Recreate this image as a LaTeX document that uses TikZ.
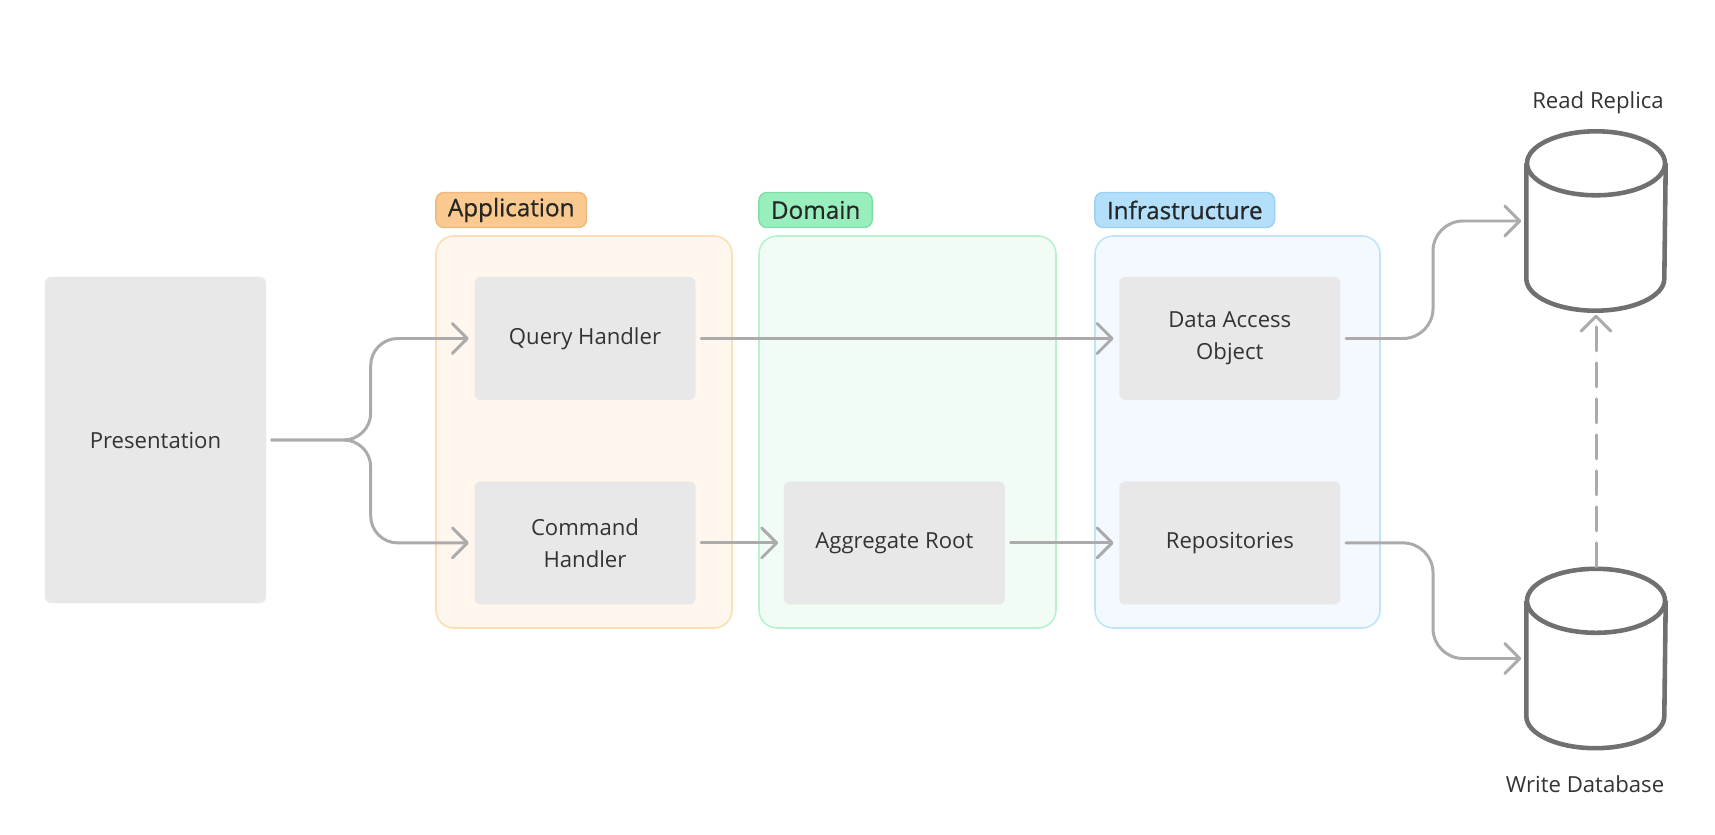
\documentclass[tikz,border=0pt]{standalone}
\usepackage{fontspec}
\setmainfont{Open Sans}
\newfontfamily\tagfont{Open Sans}[FakeBold=0.6]
\usepackage{xcolor}
\usetikzlibrary{arrows.meta, positioning, calc}
\definecolor{boxgray}{HTML}{E8E8E8}
\definecolor{linegray}{HTML}{ABABAB}
\definecolor{dbgray}{HTML}{707070}
\definecolor{txtgray}{HTML}{333333}
\definecolor{appfill}{HTML}{FFF7EE}
\definecolor{appline}{HTML}{FDDDB5}
\definecolor{apptagfill}{HTML}{F9C98F}
\definecolor{apptagline}{HTML}{F1B679}
\definecolor{domfill}{HTML}{F0FCF4}
\definecolor{domline}{HTML}{B8F1CE}
\definecolor{domtagfill}{HTML}{99EEBD}
\definecolor{domtagline}{HTML}{7FDEA6}
\definecolor{infill}{HTML}{F3F9FE}
\definecolor{infline}{HTML}{BFE4FA}
\definecolor{intagfill}{HTML}{B4DFFA}
\definecolor{intagline}{HTML}{9BD0F2}
\tikzstyle{arrow} = [line width=0.85pt, draw=linegray, line cap=round, -{Straight Barb[length=1.5mm,width=3mm,round]}, shorten <=0.05cm, shorten >=0.05cm]

\begin{document}
\begin{tikzpicture}[font=\fontsize{6.3}{9}\selectfont]
\tikzstyle{block} = [rectangle, rounded corners=0.06cm, fill=boxgray, text=txtgray, minimum width=2.21cm, minimum height=1.23cm, align=center]
\tikzstyle{layer} = [rectangle, rounded corners=0.18cm, line width=0.45pt, minimum height=3.92cm]
\tikzstyle{tag} = [rectangle, rounded corners=0.08cm, line width=0.4pt, minimum height=0.35cm, inner xsep=0.12cm, inner ysep=0pt, font=\tagfont\fontsize{6.9}{8}\selectfont, text=black!85]
\tikzstyle{db} = [rectangle, minimum width=1.38cm, minimum height=1.78cm, inner sep=0pt]
\tikzstyle{dblabel} = [text=txtgray]

\useasboundingbox (0,0) rectangle (17.15,8.34);

% layers
\node (app) [layer, fill=appfill, draw=appline, minimum width=2.96cm] at (5.84,4.02) {};
\node (domain) [layer, fill=domfill, draw=domline, minimum width=2.97cm] at (9.075,4.02) {};
\node (infra) [layer, fill=infill, draw=infline, minimum width=2.85cm] at (12.375,4.02) {};
\node (apptag) [tag, fill=apptagfill, draw=apptagline, above right=0.07cm and 0cm of app.north west] {Application};
\node (domtag) [tag, fill=domtagfill, draw=domtagline, above right=0.07cm and 0cm of domain.north west] {Domain};
\node (intag) [tag, fill=intagfill, draw=intagline, above right=0.07cm and 0cm of infra.north west] {Infrastructure};

% blocks
\node (presentation) [block, minimum height=3.26cm] at (1.555,3.94) {Presentation};
\node (query) [block] at (5.85,4.955) {Query Handler};
\node (command) [block, below=0.8cm of query] {Command\\Handler};
\node (aggregate) [block, right=0.87cm of command] {Aggregate Root};
\node (repos) [block, right=1.13cm of aggregate] {Repositories};
\node (dao) [block, above=0.8cm of repos] {Data Access\\Object};

% databases
\node (readdb) [db] at (15.96,6.13) {};
\node (writedb) [db] at (15.96,1.755) {};
\node (readlabel) [dblabel] at (15.98,7.31) {Read Replica};
\node (writelabel) [dblabel] at (15.85,0.50) {Write Database};
\foreach \n in {readdb,writedb} {
  \draw [dbgray, line width=1.3pt, fill=white] ($(\n.north west)+(0,-0.32)$) -- ($(\n.south west)+(0,0.32)$) arc[start angle=180, end angle=360, x radius=0.69cm, y radius=0.32cm] -- ($(\n.north east)+(0,-0.32)$);
  \draw [dbgray, line width=1.3pt, fill=white] ($(\n.north)+(0,-0.32)$) ellipse [x radius=0.69cm, y radius=0.32cm];
}

\draw [arrow, rounded corners=0.27cm] (presentation.east) -- ++(1.04,0) |- (query.west);
\draw [arrow, rounded corners=0.27cm] (presentation.east) -- ++(1.04,0) |- (command.west);
\draw [arrow] (query) -- (dao);
\draw [arrow] (command) -- (aggregate);
\draw [arrow] (aggregate) -- (repos);
\draw [arrow, rounded corners=0.3cm] (dao.east) -- ++(0.92,0) |- (readdb.west);
\draw [arrow, rounded corners=0.3cm] (repos.east) -- ++(0.92,0) |- (writedb.west);
\draw [arrow, dash pattern=on 0.24cm off 0.12cm, shorten <=0.02cm, shorten >=0.04cm] (writedb.north) -- (readdb.south);

\end{tikzpicture}
\end{document}
